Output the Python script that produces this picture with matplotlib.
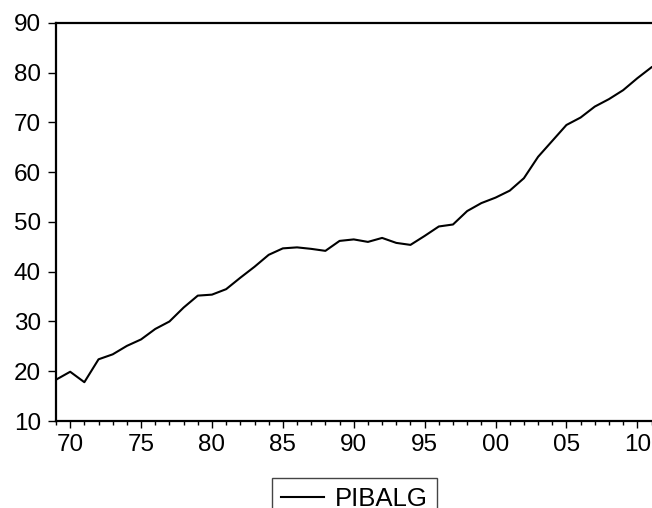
import matplotlib
matplotlib.use("Agg")
import matplotlib.pyplot as plt
from matplotlib.ticker import MultipleLocator, FuncFormatter

plt.rcParams['font.family'] = ['Liberation Sans', 'DejaVu Sans']

years = list(range(1969, 2012))
pibalg = [18.3, 19.9, 17.8, 22.4, 23.4, 25.1, 26.4, 28.5, 30.0, 32.8,
          35.2, 35.4, 36.5, 38.8, 41.0, 43.4, 44.7, 44.9, 44.6, 44.2,
          46.2, 46.5, 46.0, 46.8, 45.8, 45.4, 47.2, 49.1, 49.5, 52.2,
          53.8, 54.9, 56.3, 58.8, 63.1, 66.3, 69.5, 71.0, 73.2, 74.7,
          76.5, 78.9, 81.1]

fig = plt.figure(figsize=(6.52, 5.08), dpi=100)
ax = fig.add_axes([56/652, 1-421/508, (651.5-56)/652, (421-23)/508])

ax.plot(years, pibalg, color='black', lw=1.5, label='PIBALG')

ax.set_xlim(1969, 2011)
ax.set_ylim(10, 90)
ax.yaxis.set_major_locator(MultipleLocator(10))
ax.xaxis.set_major_locator(MultipleLocator(5))
ax.xaxis.set_minor_locator(MultipleLocator(1))
ax.xaxis.set_major_formatter(FuncFormatter(lambda v, p: '%02d' % (int(round(v)) % 100)))

for s in ['top', 'left', 'bottom']:
    ax.spines[s].set_linewidth(1.6)
ax.spines['right'].set_visible(False)

ax.tick_params(axis='y', direction='out', length=5.8, width=1, pad=5, labelsize=17.5)
ax.tick_params(axis='x', which='major', direction='out', length=4.7, width=1, pad=5, labelsize=17.5)
ax.tick_params(axis='x', which='minor', direction='out', length=2.9, width=1)

leg = fig.legend(loc='upper left', bbox_to_anchor=(271.7/652, 1-478.3/508),
                 bbox_transform=fig.transFigure, borderaxespad=0,
                 fontsize=18.5, handlelength=1.67, handletextpad=0.43,
                 borderpad=0.35, fancybox=False, framealpha=1)
leg.get_frame().set_edgecolor('#444444')
leg.get_frame().set_linewidth(1.0)

fig.savefig('out.png', dpi=100)
